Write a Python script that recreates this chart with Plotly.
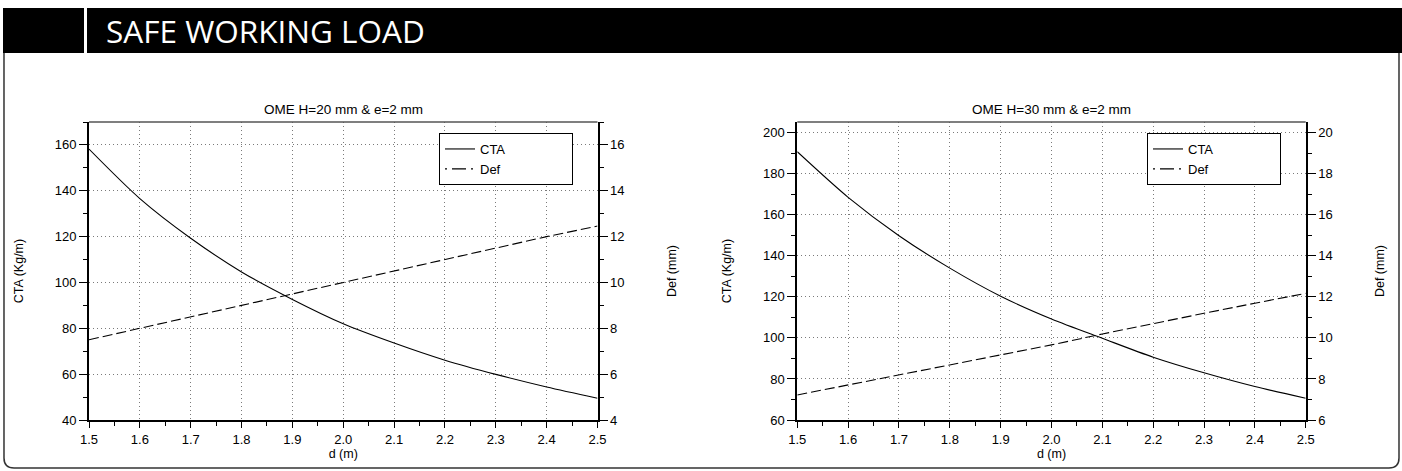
import plotly.graph_objects as go

W, H = 1402, 471

d = [1.5, 1.6, 1.7, 1.8, 1.9, 2.0, 2.1, 2.2, 2.3, 2.4, 2.5]

cta_20 = [158.2, 136.6, 119.3, 104.6, 92.6, 82.0, 73.6, 66.1, 59.9, 54.4, 49.5]
def_20 = [7.5, 8.0, 8.5, 9.0, 9.5, 10.0, 10.5, 11.0, 11.5, 12.0, 12.46]

cta_30 = [190.7, 168.5, 149.8, 134.0, 120.3, 109.2, 99.8, 90.6, 83.0, 76.3, 70.6]
def_30 = [7.22, 7.71, 8.2, 8.68, 9.2, 9.66, 10.19, 10.71, 11.2, 11.69, 12.17]

titles = ["OME H=20 mm &amp; e=2 mm", "OME H=30 mm &amp; e=2 mm"]
header_text = "SAFE WORKING LOAD"

FONT = "Liberation Sans, Arial, sans-serif"
PAD = "\u00a0" * 17

fig = go.Figure()


def add_chart(cta, dfl, xa, ya, ya2, leg):
    fig.add_trace(go.Scatter(x=d, y=cta, mode="lines", name="CTA" + PAD,
                             line=dict(color="black", width=1.1,
                                       shape="spline", smoothing=0.8),
                             xaxis=xa, yaxis=ya, legend=leg))
    fig.add_trace(go.Scatter(x=d, y=dfl, mode="lines", name="Def",
                             line=dict(color="black", width=1.1,
                                       dash="10px,4px"),
                             xaxis=xa, yaxis=ya2, showlegend=False))
    # legend-only entry with the dash-dot symbol used in the reference legend
    fig.add_trace(go.Scatter(x=[None], y=[None], mode="lines",
                             name="Def" + PAD,
                             line=dict(color="black", width=1.1,
                                       dash="2px,5px,14px,5px"),
                             xaxis=xa, yaxis=ya2, legend=leg))


add_chart(cta_20, def_20, "x", "y", "y2", "legend")
add_chart(cta_30, def_30, "x3", "y3", "y4", "legend2")

ytop = 1 - 122 / H
ybot = 1 - 420 / H
dom1 = [89 / W, 597.5 / W]
dom2 = [797.3 / W, 1305.7 / W]

tickfont = dict(family=FONT, size=13, color="black")
titlefont = dict(family=FONT, size=12.5, color="black")
GRID = "#7a7a7a"


def xax(domain, anchor):
    return dict(domain=domain, anchor=anchor, range=[1.5, 2.5], dtick=0.1,
                tick0=1.5, tickformat=".1f", ticks="outside", ticklen=6,
                tickwidth=1, tickcolor="black", showline=True, linewidth=2,
                linecolor="black", mirror=False, showgrid=True,
                gridcolor=GRID, griddash="1px,3px", gridwidth=1,
                zeroline=False, tickfont=tickfont, automargin=False,
                minor=dict(dtick=0.05, tick0=1.5, ticks="outside", ticklen=4,
                           tickcolor="black", showgrid=False),
                title=dict(text="d (m)", font=titlefont, standoff=0))


def yleft(anchor, rng, dt, mdt, standoff):
    return dict(domain=[ybot, ytop], anchor=anchor, range=rng, dtick=dt,
                ticks="outside", ticklen=8, tickwidth=1, tickcolor="black",
                showline=True, linewidth=2, linecolor="black",
                showgrid=True, gridcolor=GRID, griddash="1px,3px",
                gridwidth=1, zeroline=False, tickfont=tickfont,
                automargin=False,
                minor=dict(dtick=mdt, ticks="outside", ticklen=4,
                           tickcolor="black", showgrid=False),
                title=dict(text="CTA (Kg/m)", font=titlefont,
                           standoff=standoff))


def yright(overlay, anchor, rng, dt, mdt, standoff):
    return dict(overlaying=overlay, anchor=anchor, side="right", range=rng,
                dtick=dt, ticks="outside", ticklen=8, tickwidth=1,
                tickcolor="black", showline=True, linewidth=2,
                linecolor="black", showgrid=False, zeroline=False,
                tickfont=tickfont, automargin=False,
                minor=dict(dtick=mdt, ticks="outside", ticklen=4,
                           tickcolor="black", showgrid=False),
                title=dict(text="Def (mm)", font=titlefont,
                           standoff=standoff))


legend_style = dict(xanchor="left", yanchor="top", bgcolor="white",
                    bordercolor="black", borderwidth=1,
                    font=dict(family=FONT, size=13, color="black"),
                    tracegroupgap=0, itemwidth=30)

fig.update_layout(
    width=W, height=H,
    margin=dict(l=0, r=0, t=0, b=0, autoexpand=False),
    paper_bgcolor="white", plot_bgcolor="white",
    font=dict(family=FONT, color="black"),
    xaxis=xax(dom1, "y"),
    yaxis=yleft("x", [40, 170], 20, 10, 28),
    yaxis2=yright("y", "x", [4, 17], 2, 1, 44),
    xaxis3=xax(dom2, "y3"),
    yaxis3=yleft("x3", [60, 205.2], 20, 10, 29),
    yaxis4=yright("y3", "x3", [6, 20.52], 2, 1, 43),
    legend=dict(x=439 / W, y=1 - 133 / H, **legend_style),
    legend2=dict(x=1147 / W, y=1 - 133 / H, **legend_style),
    showlegend=True,
)


def P(x, y):
    return f"{x / W:.5f},{1 - y / H:.5f}"


shapes = []
# top border lines of the plot boxes
for dom in (dom1, dom2):
    shapes.append(dict(type="line", xref="paper", yref="paper",
                       x0=dom[0], x1=dom[1], y0=ytop, y1=ytop,
                       line=dict(color="#555", width=1.5)))

# header bar
shapes.append(dict(type="rect", xref="paper", yref="paper",
                   x0=3 / W, x1=84 / W, y0=1 - 53 / H, y1=1 - 8 / H,
                   fillcolor="black", line=dict(width=0)))
shapes.append(dict(type="rect", xref="paper", yref="paper",
                   x0=87 / W, x1=1.0, y0=1 - 53 / H, y1=1 - 8 / H,
                   fillcolor="black", line=dict(width=0)))
# rounded frame
r = 10
frame = (f"M {P(4, 53)} L {P(4, 468 - r)} Q {P(4, 468)} {P(4 + r, 468)} "
         f"L {P(1399 - r, 468)} Q {P(1399, 468)} {P(1399, 468 - r)} "
         f"L {P(1399, 53)}")
shapes.append(dict(type="path", xref="paper", yref="paper", path=frame,
                   line=dict(color="#333", width=1.5)))
fig.update_layout(shapes=shapes)

annotations = [
    dict(text=header_text, xref="paper", yref="paper", x=104 / W,
         y=1 - 30.5 / H, xanchor="left", yanchor="middle", showarrow=False,
         font=dict(family="Open Sans", size=31.5, color="white")),
    dict(text=titles[0], xref="paper", yref="paper",
         x=(dom1[0] + dom1[1]) / 2, y=1 - 110 / H, xanchor="center",
         yanchor="middle", showarrow=False,
         font=dict(family=FONT, size=13.5, color="black")),
    dict(text=titles[1], xref="paper", yref="paper",
         x=(dom2[0] + dom2[1]) / 2, y=1 - 110 / H, xanchor="center",
         yanchor="middle", showarrow=False,
         font=dict(family=FONT, size=13.5, color="black")),
]
fig.update_layout(annotations=annotations)

fig.write_html(
    "out.html",
    config={"displayModeBar": False},
    post_script="document.body.style.margin='0';"
                "document.body.style.overflow='hidden';",
)
